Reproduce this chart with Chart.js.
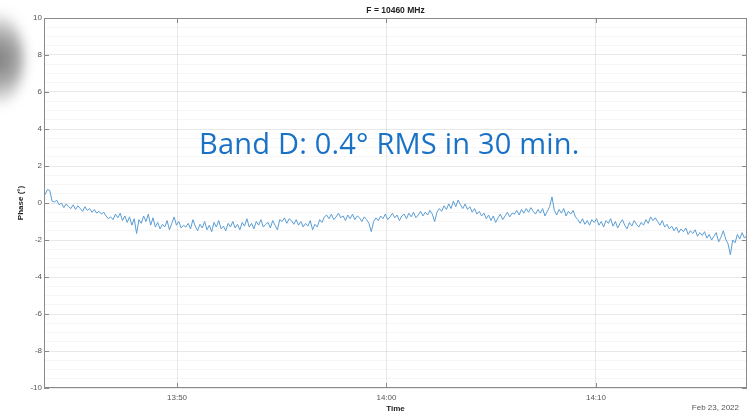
<!DOCTYPE html>
<html>
<head>
<meta charset="utf-8">
<script src="https://cdn.jsdelivr.net/npm/chart.js@4/dist/chart.umd.min.js"></script>
<style>
  html, body { margin: 0; padding: 0; background: #fff; }
  #wrap { position: relative; width: 750px; height: 415px; overflow: hidden; }
  #chart { position: absolute; left: 0; top: 0; z-index: 1; }
  .orn {
    position: absolute; left: -46px; top: 6px; width: 70px; height: 106px;
    border-radius: 50%;
    background: radial-gradient(circle at 60% 50%, #7a7a7a 0%, #a8a8a8 35%, rgba(255,255,255,0) 72%);
    filter: blur(6px); z-index: 0;
  }
  .note {
    position: absolute; left: 199px; top: 123px; z-index: 2;
    font-family: "Comic Sans MS", "Open Sans", sans-serif;
    font-size: 29px; letter-spacing: 0.2px; color: #1a72c6; white-space: nowrap;
  }
</style>
</head>
<body>
<div id="wrap">
  <div class="orn"></div>
  <canvas id="chart" width="750" height="415"></canvas>
  <div class="note">Band D: 0.4° RMS in 30 min.</div>
</div>

<script>
/* データ */
const chartTitle = "F = 10460 MHz";
const xTitle = "Time";
const yTitle = "Phase (°)";
const dateLabel = "Feb 23, 2022";

// minutes after 13:00
const tStart = 43.7;
const tEnd = 77.2;
const xMin = 43.65;
const xMax = 77.21;
const xTickValues = [50, 60, 70];
const yMajorStep = 2;

// phase (deg), evenly sampled from tStart to tEnd
const phase = [
  0.45, 0.72, 0.68, 0.1, 0.05, 0.15, -0.1, 0.0, -0.25, -0.05, -0.2, -0.3, -0.1, -0.35, -0.15, -0.3, -0.45, -0.2, -0.4, -0.3,
  -0.5, -0.35, -0.55, -0.45, -0.6, -0.5, -0.7, -0.85, -0.75, -0.9, -0.6, -0.8, -0.55, -0.95, -0.7, -1.05, -0.75, -1.2, -0.85, -1.65,
  -0.9, -1.1, -0.7, -1.0, -0.6, -1.2, -0.8, -1.3, -1.05, -1.4, -1.15, -1.3, -0.95, -1.45, -1.1, -0.75, -1.2, -1.0, -1.35, -1.2,
  -1.3, -1.1, -1.4, -0.9, -1.25, -1.5, -1.15, -1.35, -1.0, -1.45, -1.2, -1.55, -1.05, -1.3, -0.95, -1.4, -1.25, -1.5, -1.1, -1.3,
  -1.0, -1.35, -1.15, -1.45, -1.05, -1.25, -0.85, -1.3, -1.1, -1.4, -1.0, -1.2, -0.9, -1.3, -1.15, -1.05, -1.35, -0.95, -1.2, -1.45,
  -0.9, -1.0, -0.8, -1.1, -0.85, -0.95, -1.15, -0.9, -1.2, -1.0, -1.3, -1.1, -1.25, -0.95, -1.45, -1.15, -1.3, -0.9, -1.05, -0.75,
  -0.65, -0.85, -0.6, -0.9, -0.75, -0.55, -0.8, -0.7, -0.95, -0.65, -0.85, -0.6, -0.9, -0.7, -0.8, -1.0, -0.75, -0.9, -1.1, -1.55,
  -1.0, -0.8, -0.95, -0.7, -0.85, -0.6, -0.9, -0.75, -0.55, -0.8, -0.65, -0.95, -0.7, -0.6, -0.85, -0.55, -0.75, -0.5, -0.8, -0.65,
  -0.45, -0.7, -0.5, -0.65, -0.4, -0.6, -1.0, -0.5, -0.3, -0.45, -0.15, -0.35, -0.05, -0.3, 0.1, -0.2, 0.16, -0.1, -0.3, -0.05,
  -0.35, -0.2, -0.5, -0.3, -0.6, -0.45, -0.7, -0.55, -0.85, -0.65, -0.95, -0.7, -1.05, -0.8, -0.6, -0.9, -0.7, -0.5, -0.75, -0.55,
  -0.6, -0.4, -0.65, -0.35, -0.55, -0.3, -0.5, -0.25, -0.45, -0.6, -0.35, -0.55, -0.3, -0.7, -0.45, -0.2, 0.33, -0.4, -0.65, -0.35,
  -0.55, -0.3, -0.7, -0.45, -0.6, -0.4, -0.75, -0.9, -1.1, -0.85, -1.15, -0.95, -1.2, -0.9, -1.05, -0.85, -1.2, -1.0, -1.3, -0.95,
  -1.1, -0.85, -1.25, -1.0, -1.35, -1.1, -0.9, -1.2, -1.4, -1.05, -1.25, -0.95, -1.15, -1.3, -1.05, -1.2, -0.9, -1.1, -0.75, -0.95,
  -0.8, -1.0, -1.2, -0.95, -1.3, -1.15, -1.4, -1.25, -1.5, -1.3, -1.6, -1.4, -1.55, -1.35, -1.7, -1.5, -1.65, -1.45, -1.8, -1.6,
  -1.75, -1.55, -1.9, -1.7, -2.0, -1.8, -1.6, -2.1, -1.85, -1.5, -1.95, -2.2, -2.8, -2.0, -2.15, -1.7, -1.95, -1.6, -1.9, -1.75
];


/* 時刻表示 */
function fmtTime(m) {
  const h = 13 + Math.floor(m / 60);
  const mm = Math.round(m % 60);
  return h + ":" + String(mm).padStart(2, "0");
}


/* 枠と内向き目盛 */
const boxPlugin = {
  id: "box",
  afterDatasetsDraw(c) {
    const { ctx, chartArea: a, scales: { x, y } } = c;
    const len = 5;

    ctx.save();
    ctx.strokeStyle = "#8a8a8a";
    ctx.lineWidth = 1;
    ctx.strokeRect(a.left + 0.5, a.top + 0.5, a.right - a.left - 1, a.bottom - a.top - 1);

    ctx.beginPath();
    for (let v = -10; v <= 10; v += yMajorStep) {
      const py = Math.round(y.getPixelForValue(v)) + 0.5;
      ctx.moveTo(a.left, py); ctx.lineTo(a.left + len, py);
      ctx.moveTo(a.right, py); ctx.lineTo(a.right - len, py);
    }
    xTickValues.forEach(v => {
      const px = Math.round(x.getPixelForValue(v)) + 0.5;
      ctx.moveTo(px, a.bottom); ctx.lineTo(px, a.bottom - len);
      ctx.moveTo(px, a.top); ctx.lineTo(px, a.top + len);
    });
    ctx.stroke();
    ctx.restore();
  },
  afterDraw(c) {
    const { ctx, chartArea: a } = c;
    ctx.save();
    ctx.fillStyle = "#222";
    ctx.font = "bold 8.5px 'Liberation Sans', Arial, sans-serif";
    ctx.textAlign = "center";
    ctx.textBaseline = "middle";
    ctx.fillText(chartTitle, (a.left + a.right) / 2, 10.5);

    ctx.fillStyle = "#555";
    ctx.font = "8px 'Liberation Sans', Arial, sans-serif";
    ctx.textAlign = "right";
    ctx.fillText(dateLabel, a.right - 8, 408);
    ctx.restore();
  }
};


/* グラフ */
const ctx = document.getElementById("chart");

const points = phase.map((v, i) => ({
  x: tStart + i * (tEnd - tStart) / (phase.length - 1),
  y: v
}));

new Chart(ctx, {
  type: "line",
  data: {
    datasets: [{
      data: points,
      borderColor: "#5b9dd3",
      borderWidth: 1,
      pointRadius: 0,
      tension: 0,
      fill: false
    }]
  },
  options: {
    responsive: false,
    animation: false,
    layout: { padding: { top: 18, right: 3, left: 0, bottom: 0 } },
    plugins: {
      legend: { display: false },
      tooltip: { enabled: false }
    },
    scales: {
      x: {
        type: "linear",
        min: xMin,
        max: xMax,
        afterFit: s => { s.height = 27; },
        afterBuildTicks: s => { s.ticks = xTickValues.map(v => ({ value: v })); },
        border: { display: false },
        grid: { color: "rgba(0,0,0,0.09)", drawTicks: false },
        ticks: {
          padding: 5,
          color: "#555",
          font: { family: "'Liberation Sans', Arial, sans-serif", size: 8 },
          maxRotation: 0,
          callback: v => fmtTime(v)
        },
        title: {
          display: true,
          text: xTitle,
          color: "#222",
          padding: { top: 0, bottom: 1 },
          font: { family: "'Liberation Sans', Arial, sans-serif", size: 8, weight: "bold" }
        }
      },
      y: {
        min: -10,
        max: 10,
        afterFit: s => { s.width = 44; },
        border: { display: false },
        grid: {
          drawTicks: false,
          color: c => (Math.abs(c.tick.value % yMajorStep) < 1e-6)
            ? "rgba(0,0,0,0.09)" : "rgba(0,0,0,0.035)"
        },
        ticks: {
          stepSize: 0.5,
          autoSkip: false,
          padding: 2,
          color: "#555",
          font: { family: "'Liberation Sans', Arial, sans-serif", size: 8 },
          callback: v => (Math.abs(v % yMajorStep) < 1e-6) ? v : ""
        },
        title: {
          display: true,
          text: yTitle,
          color: "#222",
          padding: { top: 16, bottom: 0 },
          font: { family: "'Liberation Sans', Arial, sans-serif", size: 8, weight: "bold" }
        }
      }
    }
  },
  plugins: [boxPlugin]
});
</script>
</body>
</html>
